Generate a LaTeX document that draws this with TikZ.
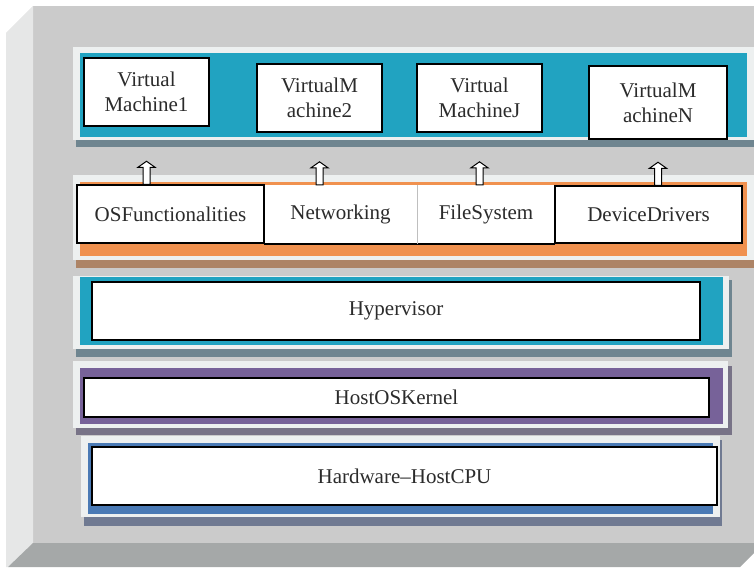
\documentclass[tikz,border=0pt]{standalone}
\usepackage{fontspec}
\setmainfont{Liberation Serif}
\usepackage{tikz}
\usetikzlibrary{calc}
\usepackage{xcolor}

\definecolor{facegray}{HTML}{CBCBCB}
\definecolor{bevellight}{HTML}{E6E7E7}
\definecolor{beveldark}{HTML}{A5A8A8}
\definecolor{bandedge}{HTML}{EDF0F0}
\definecolor{tealfill}{HTML}{21A3C1}
\definecolor{tealshadow}{HTML}{6F8590}
\definecolor{orangefill}{HTML}{F0914F}
\definecolor{orangeshadow}{HTML}{AD8466}
\definecolor{purplefill}{HTML}{776299}
\definecolor{purpleshadow}{HTML}{787387}
\definecolor{bluefill}{HTML}{4A7AB5}
\definecolor{blueshadow}{HTML}{707A92}
\definecolor{textgray}{HTML}{2B2B2B}

\tikzset{
  labelfont/.style={font=\fontsize{21}{25}\selectfont, text=textgray, align=center},
  layerbox/.style={labelfont, draw=black, line width=1.5pt, fill=white, inner sep=0pt},
  openbox/.style={labelfont, fill=white, inner sep=0pt},
}
% hollow block arrow pointing up, base at #1
\newcommand{\blockup}[1]{%
  \draw[fill=white, line width=1pt] (#1) ++(-3.5,0) -- ++(0,-17) -- ++(-5,0)
    -- ++(8.5,-6) -- ++(8.5,6) -- ++(-5,0) -- ++(0,17) -- cycle;}

\begin{document}
\begin{tikzpicture}[x=1pt, y=-1pt]
  \useasboundingbox (0,0) rectangle (754,567);
  % bevelled frame
  \fill[facegray] (33,6) rectangle (754,543);
  \fill[bevellight] (6,33) -- (33,6) -- (33,543) -- (8,567) -- (6,567) -- cycle;
  \fill[beveldark] (33,543) -- (754,543) -- (754,553) -- (740,567) -- (8,567) -- cycle;

  % layer bands (shadow, edge, fill)
  \fill[tealshadow] (76,54) rectangle (754,147);
  \fill[bandedge] (73,47) rectangle (754,140);
  \fill[tealfill] (80,53) rectangle (747,137);

  \fill[orangeshadow] (76,182) rectangle (754,268);
  \fill[bandedge] (73,175) rectangle (754,260);
  \fill[orangefill] (80,182) rectangle (747,256);

  \fill[tealshadow] (76,280) rectangle (732,357);
  \fill[bandedge] (73,276) rectangle (729,349);
  \fill[tealfill] (80,277) rectangle (723,345);

  \fill[purpleshadow] (76,366) rectangle (732,435);
  \fill[bandedge] (73,361) rectangle (728,428);
  \fill[purplefill] (80,368) rectangle (723,424);

  \fill[blueshadow] (84,440) rectangle (722,526);
  \fill[bandedge] (81,436) rectangle (720,517);
  \fill[bluefill] (88,443) rectangle (713,514);

  % virtual machines
  \node[layerbox, minimum width=125pt, minimum height=68pt] (vm1) at (146.5,92) {Virtual\\Machine1};
  \node[layerbox, minimum width=125pt, minimum height=68pt] (vm2) at (319.5,98) {VirtualM\\achine2};
  \node[layerbox, minimum width=125pt, minimum height=68pt] (vmj) at (479.5,98) {Virtual\\MachineJ};
  \node[layerbox, minimum width=138pt, minimum height=73pt] (vmn) at (658,102.5) {VirtualM\\achineN};

  % services
  \node[openbox, minimum width=153pt, minimum height=59pt] (net) at (340.5,214.5) {Networking};
  \node[openbox, minimum width=138pt, minimum height=59pt] (fs) at (486,214.5) {FileSystem};
  \draw[line width=1.5pt] (net.south west) -- (fs.south east);
  \draw[black!25, line width=0.6pt] (net.north east) -- (net.south east);
  \node[layerbox, minimum width=187pt, minimum height=58pt] (osf) at (170.5,214) {OSFunctionalities};
  \node[layerbox, minimum width=187pt, minimum height=57pt] (dd) at (648.5,214.5) {DeviceDrivers};

  % lower layers
  \node[layerbox, minimum width=608pt, minimum height=58pt] (hyper) at (396,311) {Hypervisor};
  \node[layerbox, minimum width=625pt, minimum height=39pt] (kernel) at (396.5,397.5) {HostOSKernel};
  \node[layerbox, minimum width=625pt, minimum height=58pt] (hw) at (404.5,476) {Hardware--HostCPU};

  % arrows up to the VMs
  \blockup{vm1.south |- osf.north}
  \blockup{vm2.south |- net.north}
  \blockup{vmj.south |- fs.north}
  \blockup{vmn.south |- dd.north}
\end{tikzpicture}
\end{document}
